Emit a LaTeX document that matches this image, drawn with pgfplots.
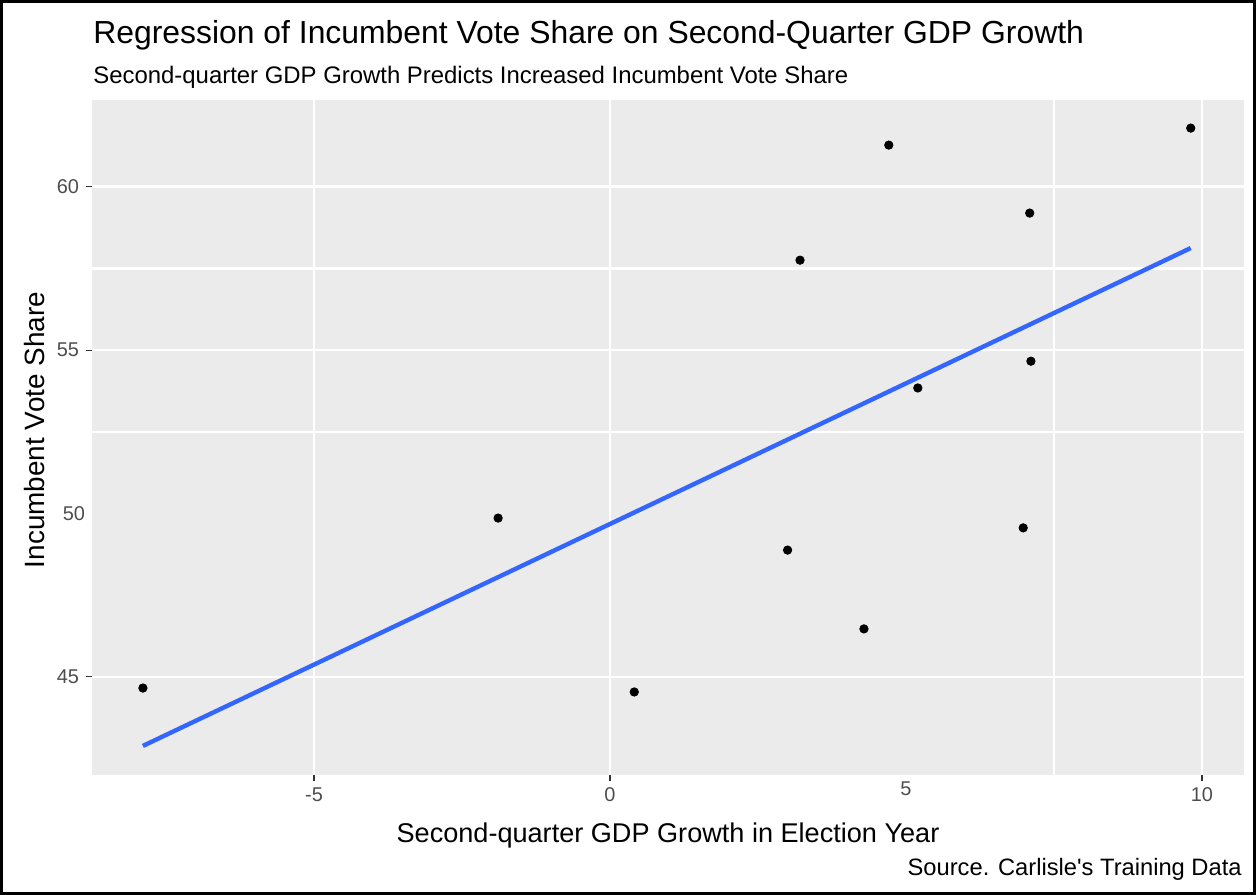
\documentclass[border=0pt]{standalone}
\usepackage{pgfplots}
\pgfplotsset{compat=1.18}
\usepackage{fontspec}
\setmainfont{Liberation Sans}
\definecolor{panelbg}{HTML}{EBEBEB}
\definecolor{ticklab}{HTML}{4D4D4D}
\definecolor{tickcol}{HTML}{333333}
\definecolor{smoothblue}{HTML}{3366FF}
\begin{document}
\begin{tikzpicture}
\path[use as bounding box] (0,0) rectangle (628bp,447.5bp);
\draw[line width=1.5bp,black] (0.75bp,0.75bp) rectangle (627.25bp,446.75bp);
% background and grid
\begin{axis}[
  at={(46bp,60bp)}, anchor=south west,
  scale only axis, width=576bp, height=337.5bp,
  xmin=-8.75, xmax=10.71, ymin=42.0, ymax=62.65,
  axis background/.style={fill=panelbg},
  axis line style={draw=none},
  xtick={-5,0,7.5,10}, ytick={45,52.5,55,57.5,60},
  xticklabels={}, yticklabels={},
  grid=major,
  major grid style={white, line width=1.2bp},
  major tick length=0pt,
]
\end{axis}
% data, ticks and labels
\begin{axis}[
  at={(46bp,60bp)}, anchor=south west,
  scale only axis, width=576bp, height=337.5bp,
  xmin=-8.75, xmax=10.71, ymin=42.0, ymax=62.65,
  axis line style={draw=none},
  xtick={-5,0,10}, ytick={45,55,60},
  extra x ticks={5}, extra y ticks={50},
  extra tick style={major tick length=0pt},
  tick align=outside, tick pos=left,
  major tick length=3bp,
  tick style={tickcol, line width=0.55bp},
  tick label style={font=\fontsize{10}{12}\selectfont, text=ticklab},
  /pgf/number format/assume math mode=true,
  clip=false,
]
\addplot[smoothblue, line width=2.2bp, mark=none] coordinates {(-7.89,42.89) (9.81,58.12)};
\addplot[only marks, mark=*, mark size=2.1bp, black] coordinates {
(-7.89,44.66) (-1.89,49.86) (0.41,44.54) (3.0,48.88) (3.21,57.75) (4.29,46.47)
(4.71,61.27) (5.20,53.84) (6.98,49.56) (7.09,59.19) (7.11,54.66) (9.81,61.79)};
\end{axis}
\node[anchor=base west, inner sep=0pt, font=\fontsize{16}{19}\selectfont] at (46.5bp,425.5bp) {Regression of Incumbent Vote Share on Second-Quarter GDP Growth};
\node[anchor=base west, inner sep=0pt, font=\fontsize{12}{14}\selectfont] at (46.5bp,405.75bp) {Second-quarter GDP Growth Predicts Increased Incumbent Vote Share};
\node[anchor=base, inner sep=0pt, font=\fontsize{13.6}{16}\selectfont] at (334bp,26.5bp) {Second-quarter GDP Growth in Election Year};
\node[anchor=base east, inner sep=0pt, font=\fontsize{11.9}{14}\selectfont] at (621bp,9.75bp) {Source. Carlisle\textquotesingle s Training Data};
\node[rotate=90, anchor=center, inner sep=0pt, font=\fontsize{14}{16}\selectfont] at (17.5bp,232.5bp) {Incumbent Vote Share};
\end{tikzpicture}
\end{document}
